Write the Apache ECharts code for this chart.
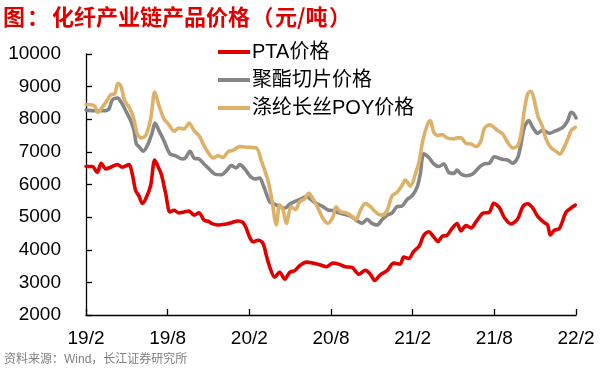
<!DOCTYPE html>
<html><head><meta charset="utf-8">
<script src="https://cdn.jsdelivr.net/npm/echarts@6/dist/echarts.min.js"></script>
<style>html,body{margin:0;padding:0;background:#fff}#c{width:602px;height:370px}</style>
</head><body><div id="c"></div>
<script>
const titleText = '{t|图}{c|：}{t|化纤产业链产品价格}{o|（}{t|元/吨}{e|）}';
const sourceText = '资料来源：Wind，长江证券研究所';
const seriesNames = ['PTA价格', '聚酯切片价格', '涤纶长丝POY价格'];
const xTickLabels = ['19/2', '19/8', '20/2', '20/8', '21/2', '21/8', '22/2'];
const yTicks = [2000, 3000, 4000, 5000, 6000, 7000, 8000, 9000, 10000];

// months since 2019-02
const ptaMonths = [0,0.46,0.83,1.12,1.45,1.81,2.30,2.67,3.16,3.40,3.65,3.89,4.14,4.39,4.75,5.05,5.29,5.53,5.86,6.17,6.47,6.83,7.20,7.57,7.94,8.30,8.67,9.04,9.21,9.70,10.19,10.68,11.17,11.54,11.78,12.03,12.27,12.64,13.01,13.25,13.50,13.86,14.23,14.60,14.97,15.33,15.70,16.19,16.68,17.17,17.66,18.15,18.57,19.05,19.54,20.04,20.52,20.89,21.21,21.62,22.12,22.61,23.09,23.34,23.71,24.08,24.49,24.81,25.18,25.55,25.86,26.16,26.52,26.89,27.26,27.55,27.92,28.29,28.66,29.15,29.63,29.96,30.37,30.73,31.23,31.72,32.09,32.45,32.82,33.19,33.67,33.92,34.11,34.41,34.78,35.27,35.64,35.95];
const ptaValues = [6550,6550,6370,6650,6480,6530,6610,6530,6610,6320,5810,5650,5420,5560,5970,6750,6550,6320,5710,5160,5210,5130,5160,5190,5060,5130,4910,4860,4810,4760,4780,4830,4880,4830,4650,4380,4240,4290,4190,3820,3470,3160,3310,3100,3310,3360,3510,3620,3590,3540,3480,3590,3560,3480,3460,3250,3370,3250,3060,3230,3360,3590,3560,3780,3730,3950,4120,4440,4550,4390,4250,4410,4440,4650,4800,4580,4740,4670,4860,5120,5150,5420,5290,4990,4790,4950,5320,5410,5280,5020,4830,4760,4450,4600,4650,5150,5280,5370];

const chipMonths = [0,0.59,1.32,1.69,1.93,2.30,2.59,2.92,3.28,3.53,3.70,3.89,4.21,4.56,4.87,5.07,5.36,5.73,6.17,6.59,7.08,7.33,7.64,7.94,8.30,8.67,9.04,9.46,9.94,10.31,10.68,11.04,11.29,11.66,12.03,12.40,12.76,13.01,13.25,13.50,13.86,14.23,14.60,14.97,15.45,15.82,16.19,16.55,16.92,17.41,17.78,18.15,18.57,19.05,19.54,19.91,20.28,20.65,21.01,21.38,21.75,22.12,22.48,22.85,23.22,23.59,23.95,24.32,24.56,24.81,25.18,25.55,25.91,26.28,26.65,27.02,27.26,27.55,27.92,28.41,28.90,29.26,29.63,30.00,30.49,30.98,31.35,31.72,31.96,32.20,32.53,32.82,33.19,33.56,34.04,34.53,35.03,35.39,35.64,35.81,36.00];
const chipValues = [8285,8260,8260,8320,8590,8650,8520,8260,7960,7650,7240,7160,7020,7240,7600,7880,7650,7340,6940,6880,6780,6830,7020,6810,6780,6630,6480,6320,6300,6420,6580,6510,6610,6480,6270,6170,6200,5990,5720,5470,5400,5320,5270,5400,5500,5560,5630,5530,5420,5320,5220,5200,5130,5080,5010,4890,4810,4930,4810,4760,4920,5060,5120,5320,5340,5540,5650,5910,6320,6940,6830,6630,6550,6630,6370,6340,6440,6320,6270,6320,6530,6630,6650,6850,6780,6750,6650,6830,7240,7750,7960,7750,7570,7670,7570,7650,7750,7960,8210,8180,8040];

const poyMonths = [0,0.59,0.88,1.20,1.57,1.81,2.11,2.35,2.55,2.84,3.16,3.48,3.77,4.06,4.39,4.75,5.05,5.36,5.73,6.10,6.47,6.83,7.20,7.57,7.94,8.30,8.67,9.04,9.33,9.70,10.07,10.43,10.80,11.29,11.90,12.51,12.88,13.37,13.67,13.98,14.23,14.47,14.72,15.08,15.38,15.70,16.07,16.36,16.68,17.05,17.41,17.78,18.15,18.37,18.69,19.18,19.54,19.84,20.15,20.52,20.89,21.38,21.75,22.12,22.48,22.85,23.22,23.46,23.83,24.20,24.49,24.74,25.05,25.30,25.55,25.86,26.16,26.52,27.02,27.26,27.55,27.92,28.29,28.66,29.02,29.26,29.63,29.93,30.25,30.61,30.98,31.35,31.72,31.96,32.20,32.45,32.70,32.94,33.19,33.51,33.80,34.17,34.53,34.83,35.07,35.39,35.64,35.95];
const poyValues = [8450,8420,8210,8370,8590,8750,8780,9100,9030,8570,8370,8060,7550,7430,7500,8010,8830,8420,8010,7830,7630,7730,7700,7880,7650,7500,7190,6940,6810,6880,6830,7000,7050,7160,7140,7120,6730,6120,5500,4760,5380,5230,4810,5320,5230,5470,5560,5730,5560,5270,4960,4810,5010,5320,5170,5120,5030,4930,5200,5420,5320,5120,5060,5200,5650,5760,5970,6140,5950,6320,6730,7340,7800,7960,7600,7500,7530,7430,7400,7430,7430,7260,7240,7160,7340,7710,7830,7770,7650,7550,7290,7120,7190,7550,8260,8780,8860,8570,8110,7800,7390,7120,7020,6930,7090,7390,7650,7750];

const colors = ['#E00000', '#858585', '#DDB167'];
const FONT = '"Liberation Sans", Arial, "Noto Sans CJK SC", sans-serif';
const TFONT = '"Noto Sans CJK SC", sans-serif';

function zip(xs, ys) {
  const n = Math.min(xs.length, ys.length);
  const out = [];
  for (let i = 0; i < n; i++) out.push([xs[i], ys[i]]);
  return out;
}

const chart = echarts.init(document.getElementById('c'), null, {renderer: 'canvas'});
const seriesData = [zip(ptaMonths, ptaValues), zip(chipMonths, chipValues), zip(poyMonths, poyValues)];

const titleStyle = {fontSize: 22, fontWeight: 'bold', color: '#E00000', fontFamily: TFONT};
chart.setOption({
  animation: false,
  backgroundColor: '#fff',
  title: [
    {text: titleText, left: 3, top: 6, padding: 0,
     textStyle: Object.assign({}, titleStyle, {
       rich: {
         t: titleStyle,
         c: Object.assign({}, titleStyle, {width: 25, align: 'left', padding: [0, 0, 0, 2]}),
         o: Object.assign({}, titleStyle, {width: 25, align: 'right'}),
         e: Object.assign({}, titleStyle, {width: 25, align: 'left'})
       }
     })},
    {text: sourceText, left: 4, bottom: 4, padding: 0,
     textStyle: {fontSize: 12, fontWeight: 'normal', color: '#808080', fontFamily: FONT}}
  ],
  legend: {
    orient: 'vertical', left: 218, top: 42, padding: 0,
    itemWidth: 32, itemHeight: 4, itemGap: 8,
    icon: 'rect',
    data: seriesNames,
    textStyle: {fontSize: 20, lineHeight: 20, color: '#000', fontFamily: FONT, padding: [0,0,0,-3]}
  },
  grid: {left: 86, right: 26, top: 54, bottom: 55, containLabel: false},
  xAxis: {
    type: 'value', min: 0, max: 36, interval: 6,
    axisLine: {lineStyle: {color: '#000', width: 1.3}},
    axisTick: {inside: true, length: 6, lineStyle: {color: '#000', width: 1.3}},
    splitLine: {show: false},
    axisLabel: {margin: 14, fontSize: 19, color: '#000', fontFamily: FONT,
      formatter: v => xTickLabels[Math.round(v / 6)] || ''}
  },
  yAxis: {
    type: 'value', min: yTicks[0], max: yTicks[yTicks.length - 1], interval: 1000,
    axisLine: {show: true, lineStyle: {color: '#000', width: 1.3}},
    axisTick: {show: true, inside: true, length: 6, lineStyle: {color: '#000', width: 1.3}},
    splitLine: {show: false},
    axisLabel: {margin: 25, fontSize: 19, color: '#000', fontFamily: FONT,
      formatter: v => String(v)}
  },
  series: seriesNames.map((name, i) => ({
    name, type: 'line', data: seriesData[i], showSymbol: false, smooth: 0.3,
    itemStyle: {color: colors[i]},
    lineStyle: {color: colors[i], width: 3.6, cap: 'round', join: 'round'},
    z: 2 + i
  }))
});
</script>
</body></html>
